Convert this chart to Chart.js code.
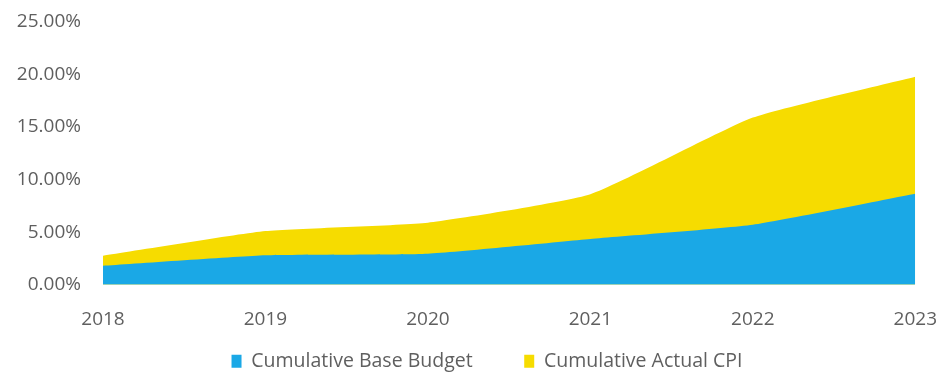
<!DOCTYPE html>
<html>
<head>
<meta charset="utf-8">
<script src="https://cdn.jsdelivr.net/npm/chart.js@4.4.0/dist/chart.umd.min.js"></script>
<style>
  html, body { margin: 0; padding: 0; background: #fff; }
  #wrap { width: 952px; height: 381px; }
</style>
</head>
<body>
<div id="wrap"><canvas id="chart" width="952" height="381"></canvas></div>
<script>
// data
const years = ['2018', '2019', '2020', '2021', '2022', '2023']
const baseBudget = [1.8, 2.8, 2.95, 4.35, 5.7, 8.65]
const actualCpi = [2.75, 5.1, 5.9, 8.6, 15.9, 19.8]
const yTicks = [0, 5, 10, 15, 20, 25]

const textColor = '#5f5f5f'
const font = { family: 'Open Sans', size: 19 }

// nudge the legend a little to the right of centre
const legendShift = {
  id: 'legendShift',
  afterLayout: chart => {
    chart.legend.left += 11
    chart.legend.right += 11
  }
}

new Chart(document.getElementById('chart'), {
  type: 'line',
  data: {
    labels: years,
    datasets: [
      {
        label: 'Cumulative Base Budget',
        data: baseBudget,
        backgroundColor: '#1aa8e6',
        borderColor: '#1aa8e6',
        borderWidth: 0,
        fill: 'origin',
        pointRadius: 0,
        tension: 0.15
      },
      {
        label: 'Cumulative Actual CPI',
        data: actualCpi,
        backgroundColor: '#f6dc00',
        borderColor: '#f6dc00',
        borderWidth: 0,
        fill: 'origin',
        pointRadius: 0,
        tension: 0.15
      }
    ]
  },
  plugins: [legendShift],
  options: {
    responsive: false,
    animation: false,
    layout: { padding: { top: 22, right: 0, left: 0, bottom: 0 } },
    plugins: {
      tooltip: { enabled: false },
      legend: {
        position: 'bottom',
        labels: {
          color: textColor,
          font: { family: 'Open Sans', size: 19.5 },
          boxWidth: 10,
          boxHeight: 13,
          padding: 6,
          // wider gap between the two entries
          generateLabels: chart => {
            const items = Chart.defaults.plugins.legend.labels.generateLabels(chart)
            items[0].text += '         '
            return items
          }
        }
      }
    },
    scales: {
      x: {
        offset: false,
        grid: { display: false },
        border: { display: false },
        ticks: { color: textColor, font: font, padding: 15, maxRotation: 0 }
      },
      y: {
        min: 0,
        max: 25,
        // invisible tick marks push the labels left without adding top padding
        grid: {
          color: 'transparent',
          tickColor: 'transparent',
          drawOnChartArea: false,
          drawTicks: true,
          tickLength: 20
        },
        border: { display: false },
        afterBuildTicks: axis => { axis.ticks = yTicks.map(v => ({ value: v })) },
        afterFit: axis => { axis.width = 103 },
        ticks: {
          color: textColor,
          font: font,
          padding: 2,
          callback: v => v.toFixed(2) + '%'
        }
      }
    }
  }
})
</script>
</body>
</html>
